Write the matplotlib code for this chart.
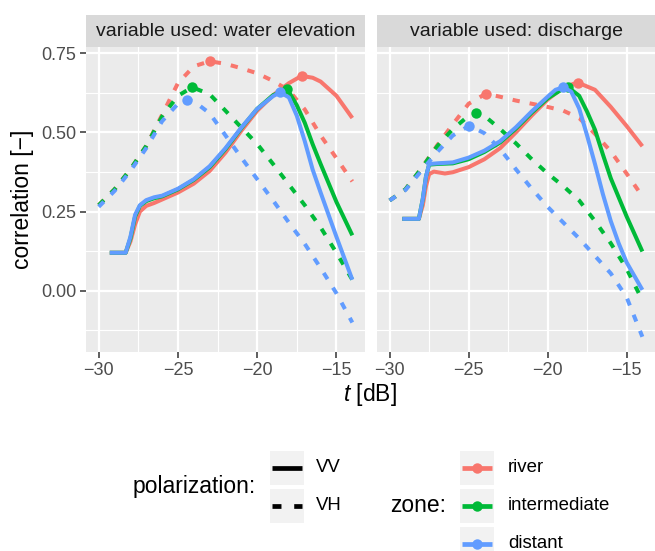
import matplotlib
matplotlib.use("Agg")
import matplotlib.pyplot as plt
from matplotlib.patches import Rectangle
from matplotlib.lines import Line2D
from matplotlib.ticker import FixedLocator, StrMethodFormatter
import numpy as np

plt.rcParams['font.family'] = ['Liberation Sans', 'DejaVu Sans']
plt.rcParams['mathtext.fontset'] = 'custom'
plt.rcParams['mathtext.it'] = 'Liberation Sans:italic'
plt.rcParams['mathtext.rm'] = 'Liberation Sans'

# ---- data ----
panels = ["variable used: water elevation", "variable used: discharge"]
zones = ["river", "intermediate", "distant"]
zone_colors = ["#F8766D", "#00BA38", "#619CFF"]
polarizations = ["VV", "VH"]
x_ticks = [-30, -25, -20, -15]
y_ticks = [0.0, 0.25, 0.5, 0.75]

# water elevation, VH
we_vh_river_x = [-30, -29, -28, -27, -26, -25, -24, -23, -22, -21, -20, -19, -18, -17, -16, -15, -14]
we_vh_river_y = [0.27, 0.32, 0.383, 0.457, 0.555, 0.655, 0.708, 0.724, 0.716, 0.702, 0.686, 0.662, 0.632, 0.572, 0.49, 0.418, 0.345]
we_vh_inter_x = [-30, -29, -28, -27, -26, -25, -24.1, -23, -22, -21, -20, -19, -18, -17, -16, -15, -14]
we_vh_inter_y = [0.27, 0.32, 0.383, 0.457, 0.55, 0.615, 0.642, 0.62, 0.568, 0.515, 0.463, 0.40, 0.335, 0.27, 0.20, 0.12, 0.035]
we_vh_dist_x = [-30, -29, -28, -27, -26, -25, -24.45, -24, -23, -22, -21, -20, -19, -18, -17, -16, -15, -14]
we_vh_dist_y = [0.265, 0.315, 0.378, 0.45, 0.535, 0.59, 0.603, 0.598, 0.56, 0.49, 0.42, 0.352, 0.285, 0.215, 0.148, 0.072, -0.008, -0.10]

# water elevation, VV
we_vv_river_x = [-29.3, -28.3, -28, -27.7, -27.4, -27, -26.5, -26, -25, -24, -23, -22, -21, -20, -19, -18, -17.2, -16.5, -16, -15, -14]
we_vv_river_y = [0.12, 0.12, 0.155, 0.21, 0.25, 0.268, 0.277, 0.288, 0.31, 0.338, 0.378, 0.436, 0.505, 0.568, 0.617, 0.655, 0.678, 0.672, 0.66, 0.615, 0.545]
we_vv_inter_x = [-29.3, -28.3, -28, -27.7, -27.4, -27, -26.5, -26, -25, -24, -23, -22, -21, -20, -19, -18.1, -17.5, -17, -16.5, -16, -15, -14]
we_vv_inter_y = [0.12, 0.12, 0.165, 0.235, 0.268, 0.283, 0.292, 0.298, 0.32, 0.35, 0.39, 0.447, 0.513, 0.574, 0.617, 0.636, 0.585, 0.53, 0.462, 0.40, 0.28, 0.175]
we_vv_dist_x = [-29.3, -28.3, -28, -27.7, -27.4, -27, -26.5, -26, -25, -24, -23, -22, -21, -20, -19, -18.55, -18, -17.5, -17, -16.5, -16, -15, -14]
we_vv_dist_y = [0.12, 0.12, 0.17, 0.24, 0.27, 0.286, 0.295, 0.30, 0.322, 0.352, 0.393, 0.45, 0.515, 0.574, 0.614, 0.626, 0.61, 0.552, 0.472, 0.382, 0.31, 0.17, 0.035]

# discharge, VH
dc_vh_river_x = [-30, -29, -28, -27, -26, -25, -23.9, -23, -22, -21, -20, -19, -18, -17, -16, -15, -14]
dc_vh_river_y = [0.285, 0.32, 0.385, 0.458, 0.525, 0.59, 0.622, 0.612, 0.60, 0.59, 0.58, 0.568, 0.545, 0.495, 0.44, 0.37, 0.298]
dc_vh_inter_x = [-30, -29, -28, -27, -26, -25, -24.55, -24, -23, -22, -21, -20, -19, -18, -17, -16, -15, -14]
dc_vh_inter_y = [0.285, 0.32, 0.385, 0.455, 0.51, 0.552, 0.561, 0.552, 0.51, 0.465, 0.415, 0.37, 0.33, 0.285, 0.22, 0.15, 0.07, -0.03]
dc_vh_dist_x = [-30, -29, -28, -27, -26, -24.95, -24, -23, -22, -21, -20, -19, -18, -17, -16, -15, -14]
dc_vh_dist_y = [0.285, 0.318, 0.378, 0.437, 0.49, 0.521, 0.497, 0.447, 0.383, 0.322, 0.265, 0.215, 0.165, 0.11, 0.055, -0.02, -0.145]

# discharge, VV
dc_vv_river_x = [-29.2, -28.15, -27.9, -27.7, -27.5, -27.2, -26.5, -26, -25, -24, -23, -22, -21, -20, -19, -18.1, -17, -16, -15, -14]
dc_vv_river_y = [0.227, 0.227, 0.27, 0.33, 0.368, 0.376, 0.37, 0.374, 0.39, 0.415, 0.45, 0.50, 0.553, 0.603, 0.642, 0.657, 0.634, 0.58, 0.52, 0.456]
dc_vv_inter_x = [-29.2, -28.15, -27.9, -27.7, -27.5, -27, -26, -25, -24, -23, -22, -21, -20, -19, -18.7, -18, -17.5, -17, -16.5, -16, -15.5, -15, -14]
dc_vv_inter_y = [0.227, 0.227, 0.29, 0.36, 0.398, 0.40, 0.402, 0.415, 0.438, 0.468, 0.512, 0.562, 0.607, 0.638, 0.642, 0.615, 0.565, 0.508, 0.43, 0.355, 0.295, 0.235, 0.124]
dc_vv_dist_x = [-29.2, -28.15, -27.9, -27.7, -27.5, -27, -26, -25, -24, -23, -22, -21, -20, -19.5, -19, -18.5, -18, -17.5, -17, -16.5, -16, -15.5, -15, -14]
dc_vv_dist_y = [0.227, 0.227, 0.29, 0.36, 0.40, 0.402, 0.405, 0.42, 0.442, 0.472, 0.516, 0.566, 0.612, 0.634, 0.642, 0.628, 0.575, 0.49, 0.40, 0.305, 0.22, 0.15, 0.09, 0.003]

series = {
    (0, "VH"): [(we_vh_river_x, we_vh_river_y), (we_vh_inter_x, we_vh_inter_y), (we_vh_dist_x, we_vh_dist_y)],
    (0, "VV"): [(we_vv_river_x, we_vv_river_y), (we_vv_inter_x, we_vv_inter_y), (we_vv_dist_x, we_vv_dist_y)],
    (1, "VH"): [(dc_vh_river_x, dc_vh_river_y), (dc_vh_inter_x, dc_vh_inter_y), (dc_vh_dist_x, dc_vh_dist_y)],
    (1, "VV"): [(dc_vv_river_x, dc_vv_river_y), (dc_vv_inter_x, dc_vv_inter_y), (dc_vv_dist_x, dc_vv_dist_y)],
}

# ---- layout (pixels) ----
W, H = 655, 551
fig = plt.figure(figsize=(W / 100, H / 100), dpi=100)

def px_box(x0, y0, x1, y1):
    return [x0 / W, 1 - y1 / H, (x1 - x0) / W, (y1 - y0) / H]

panel_px = [(86, 47, 365, 352), (377, 47, 655, 352)]
strip_top = 15

LW = 2.9
DASH = (1.8, 2.5)
tick_col = "#4D4D4D"

for p, (x0, y0, x1, y1) in enumerate(panel_px):
    ax = fig.add_axes(px_box(x0, y0, x1, y1))
    ax.set_facecolor("#EBEBEB")
    for s in ax.spines.values():
        s.set_visible(False)
    ax.set_xlim(-30.8, -13.2)
    ax.set_ylim(-0.193, 0.769)
    ax.xaxis.set_major_locator(FixedLocator(x_ticks))
    ax.yaxis.set_major_locator(FixedLocator(y_ticks))
    ax.xaxis.set_minor_locator(FixedLocator([-27.5, -22.5, -17.5]))
    ax.yaxis.set_minor_locator(FixedLocator([-0.125, 0.125, 0.375, 0.625]))
    ax.yaxis.set_major_formatter(StrMethodFormatter("{x:.2f}"))
    ax.grid(which="major", color="white", lw=1.6)
    ax.grid(which="minor", color="white", lw=0.8)
    ax.set_axisbelow(True)
    ax.tick_params(which="major", length=4, width=1.1, color="#333333",
                   labelcolor=tick_col, labelsize=13, pad=3)
    ax.tick_params(which="minor", length=0)
    if p == 1:
        ax.tick_params(axis="y", which="both", left=False, labelleft=False)

    for pol in ["VH", "VV"]:
        for (xs, ys), col in zip(series[(p, pol)], zone_colors):
            ln, = ax.plot(xs, ys, color=col, lw=LW, solid_capstyle="butt",
                          dash_capstyle="butt")
            if pol == "VH":
                ln.set_dashes(DASH)
            i = int(np.argmax(ys))
            ax.plot(xs[i], ys[i], "o", color=col, ms=7.5, mew=0)

    sax = fig.add_axes(px_box(x0, strip_top, x1, y0))
    sax.set_facecolor("#D9D9D9")
    sax.set_xticks([])
    sax.set_yticks([])
    for s in sax.spines.values():
        s.set_visible(False)
    sax.text(0.5, 0.5, panels[p], ha="center", va="center", fontsize=14,
             color="#1A1A1A", transform=sax.transAxes)

# axis titles
fig.text(22 / W, 1 - 199 / H, "correlation [\u2212]", rotation=90, ha="center",
         va="center", fontsize=16.5)
fig.text(370 / W, 1 - 395 / H, r"$t$ [dB]", ha="center", va="center", fontsize=16.5)

# ---- legends, drawn on an overlay in pixel coordinates ----
lax = fig.add_axes([0, 0, 1, 1])
lax.set_xlim(0, W)
lax.set_ylim(H, 0)
lax.axis("off")

key = 34
rows = [451, 489, 527]

def draw_key(x, y, color, dashed=False, point=False):
    lax.add_patch(Rectangle((x, y), key, key, facecolor="#F2F2F2", edgecolor="none"))
    ln = Line2D([x + 2, x + key - 2], [y + key / 2] * 2, color=color, lw=3.4,
                solid_capstyle="butt", dash_capstyle="butt")
    if dashed:
        ln.set_dashes((1.9, 2.7))
    lax.add_line(ln)
    if point:
        lax.plot(x + key / 2, y + key / 2, "o", color=color, ms=7.5, mew=0)

fig.text(256 / W, 1 - 487 / H, "polarization:", ha="right", va="center", fontsize=16.5)
for r, pol in enumerate(polarizations):
    draw_key(270, rows[r], "black", dashed=(pol == "VH"))
    lax.text(316, rows[r] + key / 2, pol, ha="left", va="center", fontsize=13.4)

fig.text(446 / W, 1 - 506 / H, "zone:", ha="right", va="center", fontsize=16.5)
for r, (z, col) in enumerate(zip(zones, zone_colors)):
    draw_key(460, rows[r], col, point=True)
    lax.text(508, rows[r] + key / 2, z, ha="left", va="center", fontsize=13.4)

fig.savefig("out.png", dpi=100)
